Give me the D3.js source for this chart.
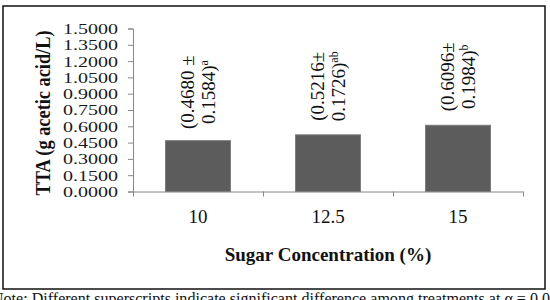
<!DOCTYPE html>
<html>
<head>
<meta charset="utf-8">
<script src="https://cdn.jsdelivr.net/npm/d3@7"></script>
<style>
  body { margin: 0; background: #fff; }
  text { font-family: "Liberation Serif", "Times New Roman", serif; }
</style>
</head>
<body>
<div class="canva"></div>
<script>
// data
const categories = ['10', '12.5', '15'];
const means = [0.4680, 0.5216, 0.6096];
const sds = [0.1584, 0.1726, 0.1984];
const letters = ['a', 'ab', 'b'];
const yTicks = [0, 0.15, 0.3, 0.45, 0.6, 0.75, 0.9, 1.05, 1.2, 1.35, 1.5];

const svg = d3.select('.canva').append('svg')
    .attr('width', 550)
    .attr('height', 300);

// frame around chart
svg.append('rect')
    .attr('x', 3).attr('y', 6)
    .attr('width', 542).attr('height', 283)
    .attr('fill', 'none')
    .attr('stroke', '#111')
    .attr('stroke-width', 1.5);

const x = d3.scaleBand()
    .domain(categories)
    .range([133, 523])
    .paddingInner(0.5)
    .paddingOuter(0.25);

const y = d3.scaleLinear()
    .domain([0, 1.5])
    .range([191.5, 28.5]);

// y axis
const yAxis = svg.append('g')
    .attr('transform', 'translate(133,0)')
    .call(d3.axisLeft(y).tickValues(yTicks).tickSize(5).tickPadding(10)
        .tickFormat(d3.format('.4f')));
yAxis.select('.domain').attr('stroke', '#888');
yAxis.selectAll('.tick line').attr('stroke', '#888');
yAxis.selectAll('.tick text')
    .attr('font-size', 15.5)
    .attr('fill', '#1a1a1a')
    .attr('font-family', '"Liberation Serif", serif')
    .attr('textLength', 55)
    .attr('lengthAdjust', 'spacingAndGlyphs');

// x axis: ticks between categories
const xEdges = d3.scaleLinear().domain([0, categories.length]).range(x.range());
const xAxis = svg.append('g')
    .attr('transform', 'translate(0,191.5)')
    .call(d3.axisBottom(xEdges).tickValues(d3.range(categories.length + 1))
        .tickSize(5).tickSizeOuter(0).tickFormat(''));
xAxis.select('.domain').attr('stroke', '#888');
xAxis.selectAll('.tick line').attr('stroke', '#888');

// category labels
svg.append('g')
    .attr('transform', 'translate(0,191.5)')
    .call(d3.axisBottom(x).tickSize(0).tickPadding(18))
    .call(g => g.select('.domain').remove())
    .selectAll('text')
    .attr('font-size', 19)
    .attr('fill', '#111')
    .attr('font-family', '"Liberation Serif", serif');

// bars
svg.selectAll('.bar')
    .data(means)
    .enter().append('rect')
    .attr('class', 'bar')
    .attr('x', (d, i) => x(categories[i]))
    .attr('y', d => y(d))
    .attr('width', x.bandwidth())
    .attr('height', d => y(0) - y(d))
    .attr('fill', '#5c5c5c')
    .attr('stroke', '#7e7e7e')
    .attr('stroke-width', 1);

// rotated value labels
const lab = svg.selectAll('.lab')
    .data(means)
    .enter().append('g')
    .attr('class', 'lab')
    .attr('transform', (d, i) => {
        const cx = x(categories[i]) + x.bandwidth() / 2;
        return `translate(${cx},${y(d) - 48.5}) rotate(-90)`;
    });

lab.append('text')
    .attr('text-anchor', 'middle')
    .attr('y', -4.5)
    .attr('font-size', 19)
    .attr('fill', '#111')
    .text((d, i) => i === 0 ? '(' + d.toFixed(4) + ' \u00b1' : '(' + d.toFixed(4) + '\u00b1');

const line2 = lab.append('text')
    .attr('text-anchor', 'middle')
    .attr('y', 16.5)
    .attr('font-size', 19)
    .attr('fill', '#111');
line2.append('tspan').text((d, i) => sds[i].toFixed(4) + ')');
line2.append('tspan')
    .attr('font-size', 12)
    .attr('dy', -7)
    .text((d, i) => letters[i]);

// axis titles
svg.append('text')
    .attr('transform', 'translate(50,113) rotate(-90)')
    .attr('text-anchor', 'middle')
    .attr('font-size', 20)
    .attr('font-weight', 'bold')
    .attr('fill', '#111')
    .attr('textLength', 165)
    .attr('lengthAdjust', 'spacingAndGlyphs')
    .text('TTA (g acetic acid/L)');

svg.append('text')
    .attr('x', 328)
    .attr('y', 261)
    .attr('text-anchor', 'middle')
    .attr('font-size', 19)
    .attr('font-weight', 'bold')
    .attr('fill', '#111')
    .text('Sugar Concentration (%)');

// note under the chart (cut off by the picture edge, as in the original)
svg.append('text')
    .attr('x', -8)
    .attr('y', 303.5)
    .attr('font-size', 16)
    .attr('fill', '#111')
    .attr('textLength', 566)
    .attr('lengthAdjust', 'spacingAndGlyphs')
    .text('Note: Different superscripts indicate significant difference among treatments at \u03b1 = 0.05');
</script>
</body>
</html>
